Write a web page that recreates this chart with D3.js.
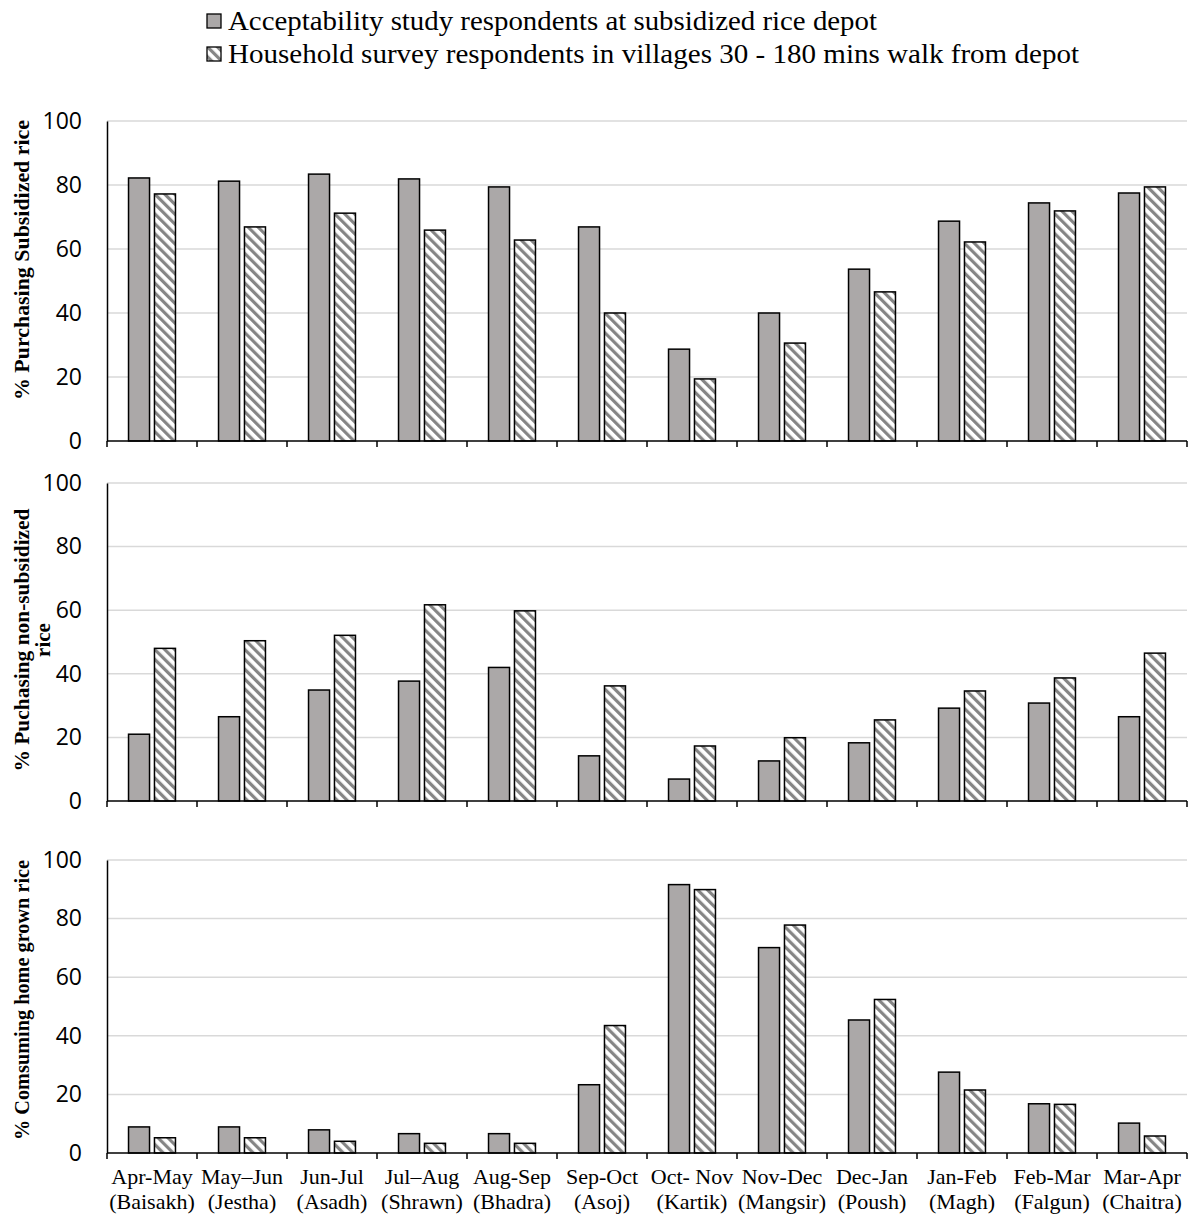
<!DOCTYPE html>
<html>
<head>
<meta charset="utf-8">
<script src="https://cdn.jsdelivr.net/npm/d3@7"></script>
<style>
  body { margin: 0; background: #fff; }
  svg { display: block; }
</style>
</head>
<body>
<div id="chart"></div>
<script>
// month ranges and nepali month names (two label lines)
var categories = ['Apr-May', 'May\u2013Jun', 'Jun-Jul', 'Jul\u2013Aug', 'Aug-Sep', 'Sep-Oct',
    'Oct- Nov', 'Nov-Dec', 'Dec-Jan', 'Jan-Feb', 'Feb-Mar', 'Mar-Apr'];
var nepaliMonths = ['(Baisakh)', '(Jestha)', '(Asadh)', '(Shrawn)', '(Bhadra)', '(Asoj)',
    '(Kartik)', '(Mangsir)', '(Poush)', '(Magh)', '(Falgun)', '(Chaitra)'];

var seriesNames = ['Acceptability study respondents at subsidized rice depot',
    'Household survey respondents in villages 30 - 180 mins walk from depot'];

var yTicks = [0, 20, 40, 60, 80, 100];

// panel 1: purchasing subsidized rice
var depotSubsidized = [82.2, 81.2, 83.4, 81.9, 79.4, 66.9, 28.7, 40.0, 53.7, 68.7, 74.4, 77.5];
var villageSubsidized = [77.2, 66.9, 71.2, 65.9, 62.8, 40.0, 19.4, 30.6, 46.6, 62.2, 71.9, 79.4];
// panel 2: purchasing non-subsidized rice
var depotNonSubsidized = [21.0, 26.5, 34.9, 37.7, 42.0, 14.2, 6.9, 12.6, 18.3, 29.2, 30.8, 26.5];
var villageNonSubsidized = [48.0, 50.4, 52.1, 61.7, 59.8, 36.2, 17.3, 19.9, 25.5, 34.6, 38.7, 46.5];
// panel 3: consuming home grown rice
var depotHomeGrown = [8.9, 8.9, 7.9, 6.6, 6.6, 23.3, 91.6, 70.1, 45.4, 27.6, 16.8, 10.2];
var villageHomeGrown = [5.2, 5.2, 4.0, 3.3, 3.3, 43.5, 89.9, 77.8, 52.4, 21.5, 16.6, 5.8];

var W = 1196, H = 1216;
var serif = '"Liberation Serif", "Times New Roman", serif';
var sans = '"Open Sans", "Noto Sans", sans-serif';

var svg = d3.select('#chart').append('svg')
    .attr('width', W)
    .attr('height', H);

var defs = svg.append('defs');
var hatch = defs.append('pattern')
    .attr('id', 'hatch')
    .attr('patternUnits', 'userSpaceOnUse')
    .attr('width', 7)
    .attr('height', 7)
    .attr('patternTransform', 'rotate(-45)');
hatch.append('rect')
    .attr('width', 7).attr('height', 7).attr('fill', '#fff');
hatch.append('rect')
    .attr('x', 0).attr('y', 0)
    .attr('width', 3.2).attr('height', 7)
    .attr('fill', '#858585');

var fills = ['#aba8a8', 'url(#hatch)'];

// legend
var legendWidths = [649, 851];
var legend = svg.append('g').attr('class', 'legend');
seriesNames.forEach(function (name, i) {
    var gy = 14 + i * 33;
    legend.append('rect')
        .attr('x', 207).attr('y', gy)
        .attr('width', 14).attr('height', 14)
        .attr('fill', fills[i])
        .attr('stroke', '#000')
        .attr('stroke-width', 1.3);
    legend.append('text')
        .attr('x', 228).attr('y', gy + 16)
        .attr('textLength', legendWidths[i])
        .attr('lengthAdjust', 'spacingAndGlyphs')
        .style('font-family', serif)
        .style('font-size', '28px')
        .text(name);
});

var x0 = d3.scaleBand()
    .domain(categories)
    .range([107, 1187]);

var x1 = d3.scaleBand()
    .domain([0, 1])
    .range([0, x0.bandwidth()])
    .paddingInner(0.19)
    .paddingOuter(0.83);

var panels = [
    {label: ['% Purchasing Subsidized rice'], labelLen: [280], labelY: 260,
        series: [depotSubsidized, villageSubsidized], top: 121, bottom: 441},
    {label: ['% Puchasing non-subsidized', 'rice'], labelLen: [263, null], labelY: 640,
        series: [depotNonSubsidized, villageNonSubsidized], top: 483, bottom: 801},
    {label: ['% Comsuming home grown rice'], labelLen: [280], labelY: 1000,
        series: [depotHomeGrown, villageHomeGrown], top: 860, bottom: 1153}
];

panels.forEach(function (p, pi) {
    var y = d3.scaleLinear().domain([0, 100]).range([p.bottom, p.top]);
    var g = svg.append('g').attr('class', 'panel panel' + pi);

    // gridlines
    g.selectAll('line.grid')
        .data(yTicks.slice(1))
        .enter().append('line')
        .attr('class', 'grid')
        .attr('x1', x0.range()[0]).attr('x2', x0.range()[1])
        .attr('y1', function (d) { return y(d); })
        .attr('y2', function (d) { return y(d); })
        .attr('stroke', '#d9d9d9')
        .attr('stroke-width', 1.5);

    // y axis
    var yAxis = g.append('g')
        .attr('transform', 'translate(' + x0.range()[0] + ',0)')
        .call(d3.axisLeft(y).tickValues(yTicks).tickSize(0).tickPadding(25));
    yAxis.select('.domain').attr('stroke', '#000').attr('stroke-width', 1.5);
    yAxis.selectAll('text')
        .style('font-family', sans)
        .style('font-size', '23px')
        .attr('fill', '#000');

    // bars
    var groups = g.selectAll('g.bars')
        .data(categories.map(function (c, i) {
            return {x: c, data: p.series.map(function (s, k) { return {k: k, value: s[i]}; })};
        }))
        .enter().append('g')
        .attr('class', 'bars')
        .attr('transform', function (d) { return 'translate(' + x0(d.x) + ',0)'; });

    groups.selectAll('rect')
        .data(function (d) { return d.data; })
        .enter().append('rect')
        .attr('x', function (d) { return x1(d.k); })
        .attr('width', x1.bandwidth())
        .attr('y', function (d) { return y(d.value); })
        .attr('height', function (d) { return p.bottom - y(d.value); })
        .attr('fill', function (d) { return fills[d.k]; })
        .attr('stroke', '#000')
        .attr('stroke-width', 1.5);

    // x axis with ticks at category boundaries
    var xg = g.append('g').attr('class', 'xaxis');
    xg.append('line')
        .attr('x1', x0.range()[0]).attr('x2', x0.range()[1])
        .attr('y1', p.bottom).attr('y2', p.bottom)
        .attr('stroke', '#000').attr('stroke-width', 1.5);
    xg.selectAll('line.tick')
        .data(categories.map(function (c) { return x0(c); }).concat([x0.range()[1]]))
        .enter().append('line')
        .attr('class', 'tick')
        .attr('x1', function (d) { return d; }).attr('x2', function (d) { return d; })
        .attr('y1', p.bottom).attr('y2', p.bottom + 6)
        .attr('stroke', '#000').attr('stroke-width', 1.5);

    if (pi === panels.length - 1) {
        var lab = xg.selectAll('text.cat')
            .data(categories)
            .enter().append('text')
            .attr('class', 'cat')
            .attr('text-anchor', 'middle')
            .style('font-family', serif)
            .style('font-size', '22px')
            .attr('transform', function (d) { return 'translate(' + (x0(d) + x0.bandwidth() / 2) + ',' + (p.bottom + 31) + ')'; });
        lab.append('tspan').attr('x', 0).attr('y', 0).text(function (d) { return d; });
        lab.append('tspan').attr('x', 0).attr('y', 25).text(function (d, i) { return nepaliMonths[i]; });
    }

    // y label
    var yl = g.append('text')
        .attr('text-anchor', 'middle')
        .attr('transform', 'translate(29,' + p.labelY + ') rotate(-90)')
        .style('font-family', serif)
        .style('font-weight', 'bold')
        .style('font-size', '21px');
    p.label.forEach(function (t, li) {
        var ts = yl.append('tspan').attr('x', 0).attr('y', li * 21).text(t);
        if (p.labelLen[li]) {
            ts.attr('textLength', p.labelLen[li]).attr('lengthAdjust', 'spacingAndGlyphs');
        }
    });
});
</script>
</body>
</html>
